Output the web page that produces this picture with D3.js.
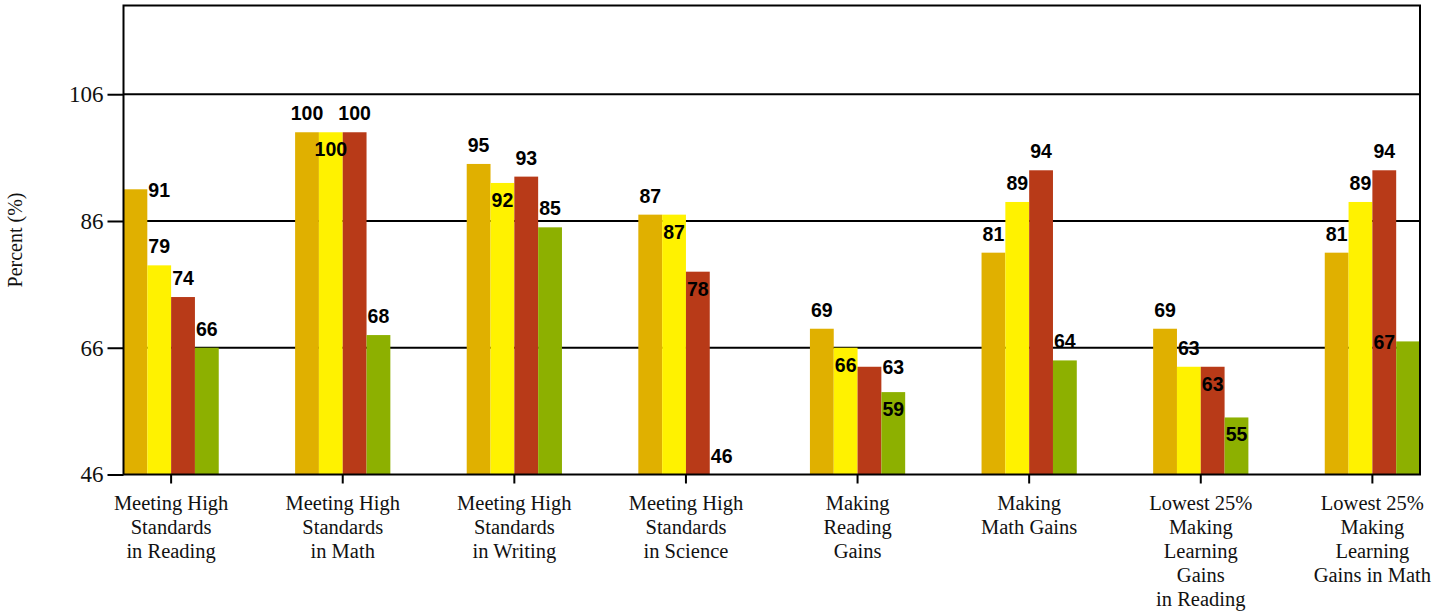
<!DOCTYPE html>
<html>
<head>
<meta charset="utf-8">
<script src="https://cdn.jsdelivr.net/npm/d3@7"></script>
<style>
  html, body { margin: 0; padding: 0; background: #fff; }
  svg { display: block; }
</style>
</head>
<body>
<svg id="chart" width="1449" height="611"></svg>
<script>
// ---- data ----
const categories = [
  "Meeting High Standards in Reading",
  "Meeting High Standards in Math",
  "Meeting High Standards in Writing",
  "Meeting High Standards in Science",
  "Making Reading Gains",
  "Making Math Gains",
  "Lowest 25% Making Learning Gains in Reading",
  "Lowest 25% Making Learning Gains in Math"
];
const categoryLines = [
  ["Meeting High", "Standards", "in Reading"],
  ["Meeting High", "Standards", "in Math"],
  ["Meeting High", "Standards", "in Writing"],
  ["Meeting High", "Standards", "in Science"],
  ["Making", "Reading", "Gains"],
  ["Making", "Math Gains"],
  ["Lowest 25%", "Making", "Learning", "Gains", "in Reading"],
  ["Lowest 25%", "Making", "Learning", "Gains in Math"]
];
const seriesNames = ["Series 1", "Series 2", "Series 3", "Series 4"];
const series1 = [91, 100, 95, 87, 69, 81, 69, 81];
const series2 = [79, 100, 92, 87, 66, 89, 63, 89];
const series3 = [74, 100, 93, 78, 63, 94, 63, 94];
const series4 = [66, 68, 85, 46, 59, 64, 55, 67];
const yTicks = [46, 66, 86, 106];
const yMin = 46, yMax = 120;
const yTitle = "Percent (%)";

// ---- styling ----
const colors = ["#E0B000", "#FFF200", "#B83A18", "#8DB000"];
// label placement tweaks (mimic the original's collision handling)
const labelMode = {
  "0|0": "right",
  "1|1": "inside",
  "2|1": "inside",
  "3|1": "inside",
  "3|2": "inside",
  "4|1": "inside",
  "4|2": "right",
  "4|3": "inside",
  "6|2": "inside",
  "6|3": "inside",
  "7|3": "left"
};

(function () {
const allSeries = [series1, series2, series3, series4];
const svg = d3.select("#chart");
const pL = 123.5, pR = 1420, pT = 5.5, pB = 474.5;

const x0 = d3.scaleBand().domain(categories).range([pL, pR])
  .paddingInner(0.445).paddingOuter(0);
const x1 = d3.scaleBand().domain(seriesNames).range([0, x0.bandwidth()]).padding(0);
const y = d3.scaleLinear().domain([yMin, yMax]).range([pB, pT]);

// gridlines
svg.append("g").selectAll("line").data(yTicks.filter(t => t !== yMin)).join("line")
  .attr("x1", pL).attr("x2", pR)
  .attr("y1", d => y(d)).attr("y2", d => y(d))
  .attr("stroke", "#000").attr("stroke-width", 2);

// bars
const rows = [];
categories.forEach((c, i) => {
  allSeries.forEach((s, j) => rows.push({ c, i, j, name: seriesNames[j], v: s[i] }));
});
svg.append("g").selectAll("rect").data(rows).join("rect")
  .attr("x", d => x0(d.c) + x1(d.name))
  .attr("y", d => y(d.v))
  .attr("width", x1.bandwidth())
  .attr("height", d => y(yMin) - y(d.v))
  .attr("fill", d => colors[d.j]);

// frame
svg.append("rect")
  .attr("x", pL).attr("y", pT)
  .attr("width", pR - pL).attr("height", pB - pT)
  .attr("fill", "none").attr("stroke", "#000").attr("stroke-width", 2);

// y axis
const yAxis = d3.axisLeft(y).tickValues(yTicks).tickSize(16).tickPadding(4).tickFormat(d3.format("d"));
const gy = svg.append("g").attr("transform", `translate(${pL},0)`).call(yAxis);
gy.select(".domain").remove();
gy.selectAll(".tick line").attr("stroke", "#000").attr("stroke-width", 2);
gy.selectAll(".tick text")
  .attr("fill", "#111")
  .style("font-family", "'Liberation Serif', 'Times New Roman', serif")
  .style("font-size", "23px");

// x axis
const xAxis = d3.axisBottom(x0).tickSize(9).tickFormat("");
const gx = svg.append("g").attr("transform", `translate(0,${pB})`).call(xAxis);
gx.select(".domain").remove();
gx.selectAll(".tick line").attr("stroke", "#000").attr("stroke-width", 2);

// category labels
const catG = svg.append("g")
  .style("font-family", "'Liberation Serif', 'Times New Roman', serif")
  .style("font-size", "20.5px")
  .attr("fill", "#111")
  .attr("text-anchor", "middle");
categories.forEach((c, i) => {
  const cx = x0(c) + x0.bandwidth() / 2;
  const t = catG.append("text").attr("x", cx).attr("y", 510);
  categoryLines[i].forEach((ln, k) => {
    t.append("tspan").attr("x", cx).attr("dy", k === 0 ? 0 : 24).text(ln);
  });
});

// y title
svg.append("text")
  .attr("transform", `translate(22,${(pT + pB) / 2}) rotate(-90)`)
  .attr("text-anchor", "middle")
  .style("font-family", "'Liberation Serif', 'Times New Roman', serif")
  .style("font-size", "20px")
  .attr("fill", "#111")
  .text(yTitle);

// value labels
const bw = x1.bandwidth();
svg.append("g").selectAll("text").data(rows).join("text")
  .attr("x", d => {
    const cx = x0(d.c) + x1(d.name) + bw / 2;
    const m = labelMode[d.i + "|" + d.j];
    if (m === "right") return cx + bw;
    if (m === "left") return cx - bw;
    return cx;
  })
  .attr("y", d => {
    const m = labelMode[d.i + "|" + d.j];
    const ty = y(d.v);
    if (m === "inside") return ty + 24;
    if (m === "right" || m === "left") return ty + 7.5;
    return ty - 12;
  })
  .attr("text-anchor", "middle")
  .style("font-family", "'Liberation Sans', Arial, sans-serif")
  .style("font-weight", "bold")
  .style("font-size", "19.5px")
  .attr("fill", "#000")
  .text(d => d.v);
})();
</script>
</body>
</html>
